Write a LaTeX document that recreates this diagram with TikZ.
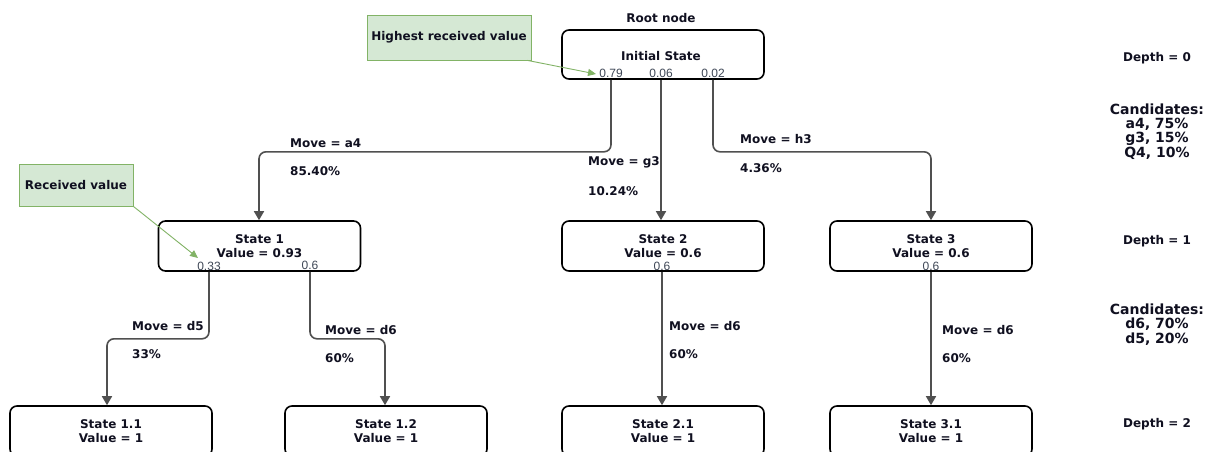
\documentclass[tikz,border=0pt]{standalone}
\usepackage{fontspec}
\setmainfont{DejaVu Sans}
\newfontfamily\arialf{Liberation Sans}
\usetikzlibrary{arrows.meta}
\definecolor{edgec}{HTML}{505050}
\definecolor{notefill}{HTML}{D5E8D4}
\definecolor{notedraw}{HTML}{82B366}
\definecolor{valc}{HTML}{3E4756}
\definecolor{txtc}{HTML}{101020}
\tikzset{
  statebox/.style={draw=black, line width=1.6pt, rounded corners=7pt, fill=white,
    minimum width=202pt, minimum height=50pt, inner sep=0pt, align=center,
    font=\bfseries\fontsize{12}{14}\selectfont, text=txtc},
  valtxt/.style={font=\arialf\fontsize{12}{12}\selectfont, text=valc, inner sep=0pt},
  lbl/.style={font=\bfseries\fontsize{12}{14}\selectfont, anchor=west, inner sep=0pt, text=txtc},
  sidetxt/.style={font=\bfseries\fontsize{12}{14}\selectfont, align=center, inner sep=0pt, text=txtc},
  candtxt/.style={font=\bfseries\fontsize{14}{14.4}\selectfont, align=center, inner sep=0pt, text=txtc},
  edge/.style={draw=edgec, line width=1.6pt, rounded corners=7pt, -{Triangle[length=9pt,width=10pt]}},
  note/.style={draw=notedraw, fill=notefill, line width=0.8pt, inner sep=0pt, align=center,
    font=\bfseries\fontsize{12}{14}\selectfont, text=txtc},
  notearrow/.style={draw=notedraw, line width=0.9pt, -{Triangle[length=8pt,width=7pt]}}
}
\begin{document}
\begin{tikzpicture}[x=1pt,y=-1pt]
\clip (0,0) rectangle (1212,452);
\fill[white] (0,0) rectangle (1212,452);

% root
\node[statebox, minimum height=49pt] (root) at (663,54.5) {};
\node[sidetxt] (roottxt) at (661,56) {Initial State};
\node[sidetxt] (rootlbl) at (661,18) {Root node};
\node[valtxt] (v079) at (611,73) {0.79};
\node[valtxt] (v006) at (661,73) {0.06};
\node[valtxt] (v002) at (713,73) {0.02};

% depth 1
\node[statebox] (s1) at (259.5,246) {State 1\\Value = 0.93};
\node[statebox] (s2) at (663,246) {State 2\\Value = 0.6};
\node[statebox] (s3) at (931,246) {State 3\\Value = 0.6};
\node[valtxt] (v133) at (209,266) {0.33};
\node[valtxt] (v106) at (310,265) {0.6};
\node[valtxt] (v206) at (662,266) {0.6};
\node[valtxt] (v306) at (931,266) {0.6};

% depth 2
\node[statebox] (s11) at (111,431) {State 1.1\\Value = 1};
\node[statebox] (s12) at (386,431) {State 1.2\\Value = 1};
\node[statebox] (s21) at (663,431) {State 2.1\\Value = 1};
\node[statebox] (s31) at (931,431) {State 3.1\\Value = 1};

% edges from root
\draw[edge] (v079.south |- root.south) -- ++(0,72) -| (s1.north -| 259,0);
\draw[edge] (v006.south |- root.south) -- (s2.north -| v006.south);
\draw[edge] (v002.south |- root.south) -- ++(0,72) -| (s3.north);
% edges from depth 1
\draw[edge] (v133.south |- s1.south) -- ++(0,67) -| (s11.north -| 107,0);
\draw[edge] (v106.south |- s1.south) -- ++(0,67) -| (s12.north -| 385,0);
\draw[edge] (v206.south |- s2.south) -- (s21.north -| v206.south);
\draw[edge] (v306.south |- s3.south) -- (s31.north -| v306.south);

% edge labels
\node[lbl] (la4) at (290,143) {Move = a4};
\node[lbl] (pa4) at (290,171) {85.40\%};
\node[lbl] (lg3) at (588,162) {Move = g3};
\node[lbl] (pg3) at (588,191) {10.24\%};
\node[lbl] (lh3) at (740,139) {Move = h3};
\node[lbl] (ph3) at (740,168) {4.36\%};
\node[lbl] (ld5) at (132,326) {Move = d5};
\node[lbl] (pd5) at (132,354) {33\%};
\node[lbl] (ld6a) at (325,330) {Move = d6};
\node[lbl] (pd6a) at (325,358) {60\%};
\node[lbl] (ld6b) at (669,326) {Move = d6};
\node[lbl] (pd6b) at (669,354) {60\%};
\node[lbl] (ld6c) at (942,330) {Move = d6};
\node[lbl] (pd6c) at (942,358) {60\%};

% notes
\node[note, minimum width=164pt, minimum height=45pt] (n1) at (449,37.5) {Highest received value};
\node[note, minimum width=114pt, minimum height=42pt] (n2) at (76,185) {Received value};
\coordinate (t1) at (596,74);
\coordinate (t2) at (198,258);
\draw[notearrow] ([xshift=-4pt]n1.south east) -- (t1);
\draw[notearrow] (n2.south east) -- (t2);

% side labels
\node[sidetxt] (d0) at (1157,58) {Depth = 0};
\node[candtxt] (c0) at (1157,131.5) {Candidates:\\a4, 75\%\\g3, 15\%\\Q4, 10\%};
\node[sidetxt] (d1) at (1157,241) {Depth = 1};
\node[candtxt] (c1) at (1157,324.5) {Candidates:\\d6, 70\%\\d5, 20\%};
\node[sidetxt] (d2) at (1157,424) {Depth = 2};
\end{tikzpicture}
\end{document}
